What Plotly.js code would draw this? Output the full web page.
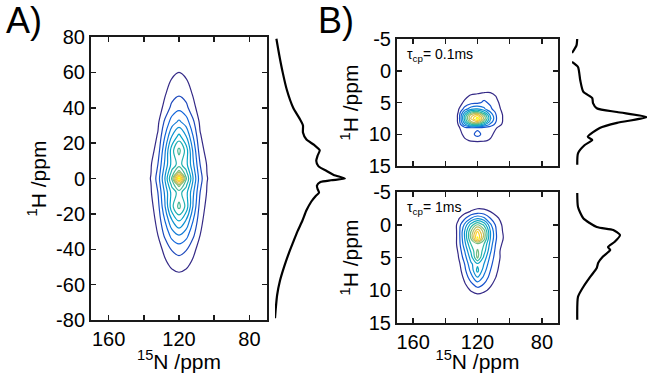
<!DOCTYPE html>
<html>
<head>
<meta charset="utf-8">
<script src="https://cdn.plot.ly/plotly-3.0.1.min.js"></script>
<style>html,body{margin:0;padding:0;background:#fff;}#plot{width:647px;height:373px;}</style>
</head>
<body>
<div id="plot"></div>
<script>
// ---------- Panel A: 2D contour (15N vs 1H) ----------
const aN = [140, 136, 132, 128, 124, 120, 116, 112, 108, 104, 100];
const aH = [-64, -56, -48, -40, -32, -24, -16, -8, -4, 0, 4, 8, 16, 24, 32, 40, 48, 56, 64];
const aZ = [
  [0, 0, 0, 0.1, 0.2, 0.3, 0.2, 0.1, 0, 0, 0],
  [0, 0, 0.1, 0.3, 0.55, 0.7, 0.55, 0.3, 0.1, 0, 0],
  [0, 0.05, 0.25, 0.8, 1.3, 1.5, 1.3, 0.8, 0.25, 0.05, 0],
  [0, 0.1, 0.55, 1.3, 2.1, 2.4, 2.1, 1.3, 0.55, 0.1, 0],
  [0.05, 0.3, 1.0, 2.2, 3.4, 4.0, 3.4, 2.2, 1.0, 0.3, 0.05],
  [0.1, 0.5, 1.3, 3.0, 4.9, 6.0, 4.9, 3.0, 1.3, 0.5, 0.1],
  [0.15, 0.7, 1.6, 3.9, 6.7, 8.3, 6.7, 3.9, 1.6, 0.7, 0.15],
  [0.2, 0.9, 2.0, 4.2, 6.4, 7.4, 6.4, 4.2, 2.0, 0.9, 0.2],
  [0.25, 0.95, 2.2, 4.6, 7.2, 9.3, 7.2, 4.6, 2.2, 0.95, 0.25],
  [0.3, 1.05, 2.4, 5.0, 8.2, 14.5, 8.2, 5.0, 2.4, 1.05, 0.3],
  [0.25, 0.95, 2.2, 4.6, 7.2, 9.3, 7.2, 4.6, 2.2, 0.95, 0.25],
  [0.2, 0.9, 2.0, 4.2, 6.4, 7.4, 6.4, 4.2, 2.0, 0.9, 0.2],
  [0.15, 0.6, 1.45, 3.8, 6.6, 8.3, 6.6, 3.8, 1.45, 0.6, 0.15],
  [0.1, 0.4, 1.1, 3.0, 5.0, 6.3, 5.0, 3.0, 1.1, 0.4, 0.1],
  [0.05, 0.3, 0.8, 2.2, 3.5, 4.2, 3.5, 2.2, 0.8, 0.3, 0.05],
  [0, 0.1, 0.5, 1.3, 2.3, 2.7, 2.3, 1.3, 0.5, 0.1, 0],
  [0, 0.05, 0.3, 0.9, 1.55, 1.85, 1.55, 0.9, 0.3, 0.05, 0],
  [0, 0, 0.15, 0.5, 1.05, 1.3, 1.05, 0.5, 0.15, 0, 0],
  [0, 0, 0.05, 0.25, 0.5, 0.7, 0.5, 0.25, 0.05, 0, 0]
];
// Panel A 1H projection (ppm, relative intensity)
const aProjH = [79, 70, 60, 50, 40, 34, 30, 26, 22, 19, 16, 13, 10, 7, 4, 2, 0, -1, -2, -4, -6, -8, -10, -13, -18, -24, -30, -36, -42, -50, -58, -66, -74, -79];
const aProjI = [0.02, 0.06, 0.11, 0.17, 0.26, 0.35, 0.40, 0.40, 0.45, 0.56, 0.64, 0.61, 0.59, 0.62, 0.75, 0.84, 1.0, 0.8, 0.65, 0.6, 0.61, 0.63, 0.58, 0.52, 0.45, 0.39, 0.32, 0.26, 0.2, 0.13, 0.07, 0.03, 0.01, 0.0];

// ---------- Panel B top: tau_cp = 0.1 ms ----------
const bN = [136, 132, 128, 124, 120, 116, 112, 108, 104, 100];
const b1H = [2, 3, 4, 5, 6, 6.5, 7, 7.5, 8, 8.5, 9, 10, 11, 12];
const b1Z = [
  [0, 0, 0, 0, 0, 0, 0, 0, 0, 0],
  [0, 0, 0, 0.3, 0.5, 0.5, 0.6, 0.3, 0, 0],
  [0, 0.2, 0.7, 1.2, 1.3, 1.6, 1.5, 0.9, 0.2, 0],
  [0, 0.5, 1.2, 1.6, 1.7, 2.2, 1.8, 1.2, 0.5, 0],
  [0.1, 0.8, 2.4, 3.6, 4.0, 3.2, 2.2, 1.4, 0.7, 0],
  [0.2, 1.0, 3.8, 6.0, 6.5, 5.0, 3.0, 1.6, 0.8, 0],
  [0.2, 1.1, 5.0, 8.5, 9.8, 7.0, 3.8, 1.8, 0.9, 0],
  [0.2, 1.1, 5.3, 9.2, 11.5, 7.8, 4.2, 1.9, 0.9, 0],
  [0.2, 1.1, 4.8, 8.0, 9.2, 6.6, 3.6, 1.8, 0.9, 0],
  [0.2, 1.0, 3.5, 5.5, 5.8, 4.2, 2.6, 1.5, 0.8, 0],
  [0.1, 0.8, 1.6, 1.8, 1.7, 1.6, 1.4, 1.0, 0.4, 0],
  [0, 0.5, 1.3, 1.6, 2.4, 1.6, 1.2, 0.7, 0.1, 0],
  [0, 0.1, 0.8, 1.1, 1.2, 1.1, 0.9, 0.3, 0, 0],
  [0, 0, 0, 0, 0, 0, 0, 0, 0, 0]
];
const b1ProjH = [-5.2, -4, -2.8, null, -1.4, -0.6, 1.5, 3.3, 4.3, 5.1, 5.9, 6.5, 7.3, 8.2, 9.0, 10.4, 10.9, 11.7, 13.0, 14.8];
const b1ProjI = [0.07, 0.06, 0.0, null, 0.0, 0.08, 0.11, 0.15, 0.27, 0.28, 0.33, 0.6, 1.0, 0.6, 0.37, 0.21, 0.27, 0.17, 0.08, 0.07];

// ---------- Panel B bottom: tau_cp = 1 ms ----------
const b2H = [-4, -3, -2, -1, 0, 1, 2, 3, 4, 5, 6, 7, 8, 9, 10, 11, 12];
const b2Z = [
  [0, 0, 0, 0, 0, 0, 0, 0, 0, 0],
  [0, 0, 0.1, 0.3, 0.5, 0.5, 0.3, 0.1, 0, 0],
  [0, 0.3, 0.6, 1.1, 1.4, 1.3, 1.0, 0.5, 0.1, 0],
  [0, 0.8, 1.8, 3.0, 3.8, 3.2, 2.0, 1.2, 0.5, 0],
  [0.1, 1.3, 3.2, 5.5, 7.0, 5.8, 3.2, 1.6, 0.8, 0],
  [0.1, 1.3, 4.0, 7.0, 10.0, 7.5, 4.0, 1.8, 0.9, 0],
  [0.1, 1.3, 4.0, 7.2, 11.2, 7.5, 4.0, 1.9, 1.0, 0],
  [0.1, 1.3, 3.6, 6.0, 6.4, 6.0, 3.6, 1.6, 0.8, 0],
  [0.05, 1.1, 3.0, 5.2, 7.2, 5.5, 3.2, 1.4, 0.6, 0],
  [0.05, 0.9, 2.5, 4.5, 7.2, 4.7, 2.7, 1.3, 0.7, 0],
  [0, 0.6, 2.0, 3.8, 4.8, 4.0, 2.3, 1.2, 0.6, 0],
  [0, 0.4, 1.7, 3.3, 5.3, 3.4, 2.0, 1.1, 0.4, 0],
  [0, 0.2, 1.3, 2.6, 4.0, 2.8, 1.6, 0.9, 0.3, 0],
  [0, 0.1, 0.9, 1.8, 2.6, 2.0, 1.2, 0.6, 0.2, 0],
  [0, 0, 0.5, 1.1, 1.5, 1.2, 0.8, 0.3, 0, 0],
  [0, 0, 0.1, 0.4, 0.6, 0.5, 0.3, 0, 0, 0],
  [0, 0, 0, 0, 0, 0, 0, 0, 0, 0]
];
const b2ProjH = [-4.85, -2.7, -1.0, 0.34, 0.8, 1.56, 2.6, 3.4, 3.85, 4.9, 5.8, 6.6, 8.0, 9.5, 11.0, 14.5];
const b2ProjI = [0.07, 0.08, 0.15, 0.33, 0.55, 0.64, 0.57, 0.48, 0.51, 0.41, 0.35, 0.33, 0.24, 0.15, 0.08, 0.07];

// ---------- tick labels ----------
const nTickVals = [160, 120, 80];
const nTickText = ['160', '120', '80'];
const aHTickVals = [-80, -60, -40, -20, 0, 20, 40, 60, 80];
const aHTickText = ['-80', '-60', '-40', '-20', '0', '20', '40', '60', '80'];
const bHTickVals = [-5, 0, 5, 10, 15];
const bHTickText = ['-5', '0', '5', '10', '15'];

const parula = [[0, '#352a87'], [0.125, '#0f5cdd'], [0.25, '#1481d6'], [0.375, '#06a4ca'],
  [0.5, '#2eb7a4'], [0.625, '#87bf77'], [0.75, '#d1bb59'], [0.875, '#fec832'], [1, '#f9fb0e']];

const W = 647, H = 373;
const px = (a, b) => [a / W, b / W];
const py = (top, bot) => [1 - bot / H, 1 - top / H];

const FONT = 'Liberation Sans, Arial, Helvetica, sans-serif';
const frame = {showline: true, linewidth: 2, linecolor: '#1a1a1a', mirror: 'ticks', ticks: 'inside',
  ticklen: 5, tickwidth: 1.5, tickcolor: '#1a1a1a', zeroline: false, showgrid: false,
  tickfont: {family: FONT, size: 20, color: '#000'}};
const nMinor = {ticks: 'inside', ticklen: 5, tickwidth: 1.5, tickcolor: '#1a1a1a', tick0: 0, dtick: 20, showgrid: false};
const hidden = {visible: false, showgrid: false, zeroline: false, fixedrange: true};

function contourTrace(x, y, z, xa, ya, zmax) {
  return {type: 'contour', x: x, y: y, z: z, xaxis: xa, yaxis: ya,
    contours: {start: 1, end: zmax, size: 1, coloring: 'lines'},
    colorscale: parula, zmin: 1, zmax: zmax, zauto: false, showscale: false,
    line: {width: 1.2, smoothing: 1.1}, hoverinfo: 'skip'};
}
function projTrace(h, i, xa, ya) {
  return {type: 'scatter', mode: 'lines', x: i, y: h, xaxis: xa, yaxis: ya,
    line: {color: '#000', width: 2.2, shape: 'spline', smoothing: 0.6}, connectgaps: false, hoverinfo: 'skip'};
}

const data = [
  contourTrace(aN, aH, aZ, 'x', 'y', 14),
  projTrace(aProjH, aProjI, 'x2', 'y2'),
  contourTrace(bN, b1H, b1Z, 'x3', 'y3', 11),
  contourTrace(bN, b2H, b2Z, 'x4', 'y4', 11),
  projTrace(b1ProjH, b1ProjI, 'x5', 'y5'),
  projTrace(b2ProjH, b2ProjI, 'x6', 'y6')
];

const titleFont = {family: FONT, size: 21, color: '#000'};
const layout = {
  width: W, height: H, margin: {l: 0, r: 0, t: 0, b: 0},
  paper_bgcolor: '#fff', plot_bgcolor: '#fff', showlegend: false,
  xaxis: Object.assign({}, frame, {domain: px(91, 267), range: [170, 70], anchor: 'y',
    tickvals: nTickVals, ticktext: nTickText, minor: nMinor,
    title: {text: '<sup>15</sup>N /ppm', font: titleFont, standoff: 3}}),
  yaxis: Object.assign({}, frame, {domain: py(37, 320), range: [-80, 80], anchor: 'x',
    tickvals: aHTickVals, ticktext: aHTickText,
    title: {text: '<sup>1</sup>H /ppm', font: titleFont, standoff: 4}}),
  xaxis2: Object.assign({}, hidden, {domain: px(275, 347), range: [0, 1.03], anchor: 'y2'}),
  yaxis2: Object.assign({}, hidden, {domain: py(37, 320), range: [-80, 80], anchor: 'x2'}),
  xaxis3: Object.assign({}, frame, {domain: px(397, 558), range: [170, 70], anchor: 'y3',
    tickvals: nTickVals, showticklabels: false, minor: nMinor}),
  yaxis3: Object.assign({}, frame, {domain: py(39, 166), range: [15, -5], anchor: 'x3',
    tickvals: bHTickVals, ticktext: bHTickText,
    title: {text: '<sup>1</sup>H /ppm', font: titleFont, standoff: 4}}),
  xaxis4: Object.assign({}, frame, {domain: px(397, 558), range: [170, 70], anchor: 'y4',
    tickvals: nTickVals, ticktext: nTickText, minor: nMinor,
    title: {text: '<sup>15</sup>N /ppm', font: titleFont, standoff: 3}}),
  yaxis4: Object.assign({}, frame, {domain: py(192, 323), range: [15, -5], anchor: 'x4',
    tickvals: bHTickVals, ticktext: bHTickText,
    title: {text: '<sup>1</sup>H /ppm', font: titleFont, standoff: 4}}),
  xaxis5: Object.assign({}, hidden, {domain: px(572, 647), range: [0, 1.0], anchor: 'y5'}),
  yaxis5: Object.assign({}, hidden, {domain: py(39, 166), range: [15, -5], anchor: 'x5'}),
  xaxis6: Object.assign({}, hidden, {domain: px(572, 647), range: [0, 1.0], anchor: 'y6'}),
  yaxis6: Object.assign({}, hidden, {domain: py(192, 323), range: [15, -5], anchor: 'x6'}),
  annotations: [
    {text: 'A)', xref: 'paper', yref: 'paper', x: 4 / W, y: 1 - 20 / H, xanchor: 'left', yanchor: 'middle',
      showarrow: false, font: {family: FONT, size: 36, color: '#000'}},
    {text: 'B)', xref: 'paper', yref: 'paper', x: 316 / W, y: 1 - 20 / H, xanchor: 'left', yanchor: 'middle',
      showarrow: false, font: {family: FONT, size: 36, color: '#000'}},
    {text: 'τ<sub>cp</sub>= 0.1ms', xref: 'paper', yref: 'paper', x: 405 / W, y: 1 - 44 / H,
      xanchor: 'left', yanchor: 'top', showarrow: false, font: {family: FONT, size: 14, color: '#000'}},
    {text: 'τ<sub>cp</sub>= 1ms', xref: 'paper', yref: 'paper', x: 405 / W, y: 1 - 197 / H,
      xanchor: 'left', yanchor: 'top', showarrow: false, font: {family: FONT, size: 14, color: '#000'}}
  ]
};

Plotly.newPlot('plot', data, layout, {displayModeBar: false, staticPlot: true});
</script>
</body>
</html>
